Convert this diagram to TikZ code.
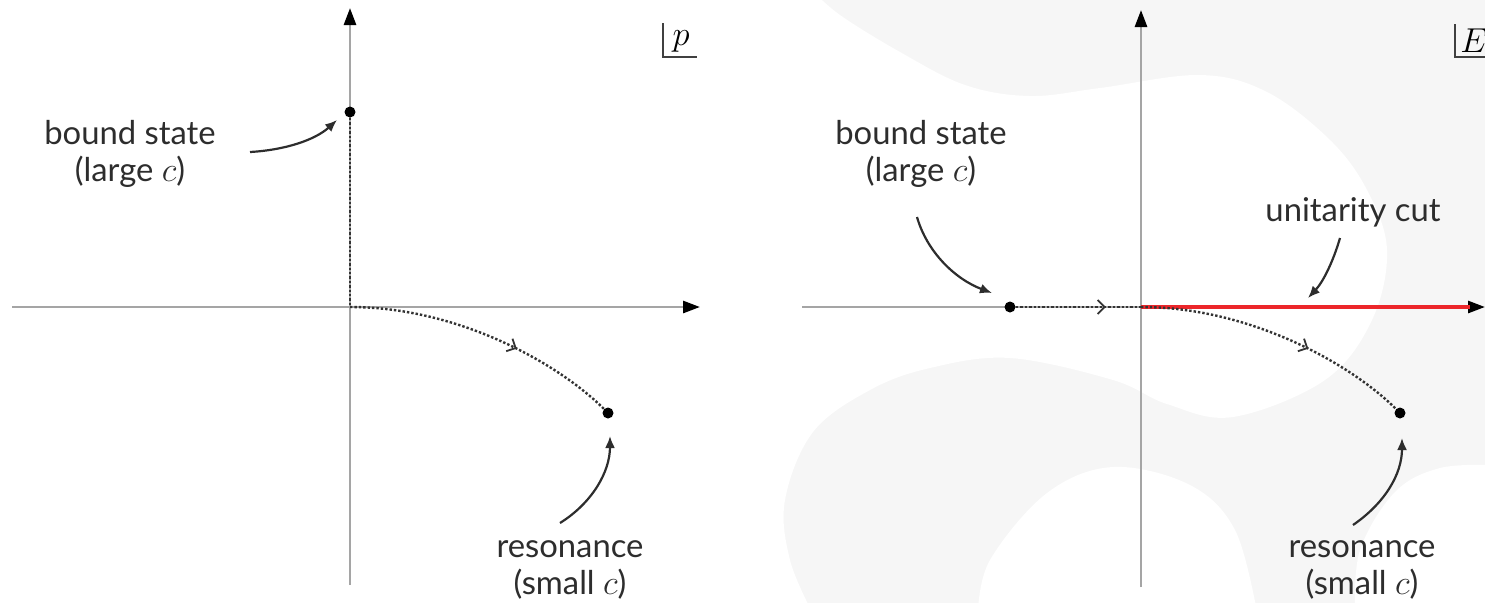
\documentclass[tikz,border=0pt]{standalone}
\usepackage{fontspec}
\setmainfont{Lato}
\usetikzlibrary{arrows.meta,decorations.markings}
\definecolor{bggray}{RGB}{246,246,246}
\definecolor{axisgray}{RGB}{165,165,165}
\definecolor{cutred}{RGB}{236,38,42}
\definecolor{txt}{RGB}{45,45,45}
\begin{document}
\begin{tikzpicture}[x=0.5pt,y=-0.5pt,
  axis/.style={draw=axisgray, line width=1.4pt, -{Triangle[length=8.5pt,width=6pt,color=black]}},
  dotline/.style={draw=black!80, densely dotted, line width=1.2pt},
  midarrow/.style={postaction={decorate}, decoration={markings, mark=at position #1 with {\arrow{Straight Barb[length=3.5pt,width=7pt,line width=0.9pt]}}}},
  dot/.style={circle, fill=black, inner sep=0pt, minimum size=5.5pt},
  pointer/.style={draw=txt, line width=1.1pt, -{Latex[length=6pt,width=5pt]}},
  lab/.style={font=\fontsize{16.4}{18.5}\selectfont, text=txt, align=center, inner sep=0pt},
  corner/.style={draw=black!75, line width=0.8pt},
  planelab/.style={font=\fontsize{17}{20}\selectfont, inner sep=0pt, anchor=base}]
\useasboundingbox (0,0) rectangle (1485,602);
% background decoration
\begin{scope}
\clip (0,0) rectangle (1485,602);
\fill[bggray] (700,-10) rectangle (1495,612);
\fill[white] (700,-10) -- plot[smooth, tension=0.6] coordinates {(812,-10) (840,15) (900,52) (965,85) (1030,96) (1100,88) (1200,75) (1267,92) (1330,140) (1367,190) (1387,250) (1372,320) (1325,380) (1233,417) (1167,404) (1113,380) (1010,358) (930,368) (870,390) (813,432) (785,500) (790,560) (812,612)} -- (700,612) -- cycle;
\fill[white] plot[smooth, tension=0.6] coordinates {(978,612) (990,560) (1047,493) (1113,467) (1190,485) (1235,530) (1257,612)} -- cycle;
\fill[white] plot[smooth, tension=0.6] coordinates {(1355,612) (1360,550) (1395,492) (1440,468) (1495,465)} -- (1495,612) -- cycle;
\end{scope}
% ---------- left panel ----------
\coordinate (o1) at (350,307);
\coordinate (xl1) at (12,307);
\coordinate (xr1) at (700,307);
\coordinate (yb1) at (350,585);
\coordinate (yt1) at (350,8);
\draw[axis] (xl1) -- (xr1);
\draw[axis] (yb1) -- (yt1);
\node[dot] (b1) at (350,112) {};
\node[dot] (r1) at (608,413) {};
\draw[dotline] (b1) -- (o1);
\draw[dotline, midarrow=0.62] (o1) .. controls (460,307) and (560,365) .. (r1);
\node[planelab] (pl) at (681,45) {$p$};
\draw[corner] (663,23) -- (663,57) -- (697,57);
\node[lab] (bl1) at (130,154) {bound state\\(large $c$)};
\node[lab] (rl1) at (570,570) {resonance\\(small $c$)};
\coordinate (bs1) at (250,152);
\coordinate (rs1) at (560,523);
\draw[pointer] (bs1) .. controls (285,150) and (315,140) .. (337,120);
\draw[pointer] (rs1) .. controls (592,503) and (610,472) .. (610,436);
% ---------- right panel ----------
\coordinate (o2) at (1141,307);
\coordinate (xl2) at (802,307);
\coordinate (xr2) at (1485,307);
\coordinate (yb2) at (1141,587);
\coordinate (yt2) at (1141,10);
\coordinate (redend) at (1470,307);
\draw[axis] (xl2) -- (xr2);
\draw[axis] (yb2) -- (yt2);
\draw[cutred, line width=2pt] (o2) -- (redend);
\node[dot] (b2) at (1010,307) {};
\node[dot] (r2) at (1400,413) {};
\draw[dotline, midarrow=0.72] (b2) -- (o2);
\draw[dotline, midarrow=0.62] (o2) .. controls (1251,307) and (1352,365) .. (r2);
\node[planelab] (el) at (1474,52) {$E$};
\draw[corner] (1455,24) -- (1455,57) -- (1490,57);
\node[lab] (bl2) at (921,154) {bound state\\(large $c$)};
\node[lab, anchor=base] (ul) at (1353,221) {unitarity cut};
\node[lab] (rl2) at (1362,570) {resonance\\(small $c$)};
\coordinate (bs2) at (917,217);
\coordinate (us) at (1340,238);
\coordinate (rs2) at (1353,525);
\draw[pointer] (bs2) .. controls (927,252) and (955,279) .. (992,293);
\draw[pointer] (us) .. controls (1333,262) and (1323,282) .. (1308,298);
\draw[pointer] (rs2) .. controls (1385,503) and (1402,474) .. (1402,438);
\end{tikzpicture}
\end{document}
